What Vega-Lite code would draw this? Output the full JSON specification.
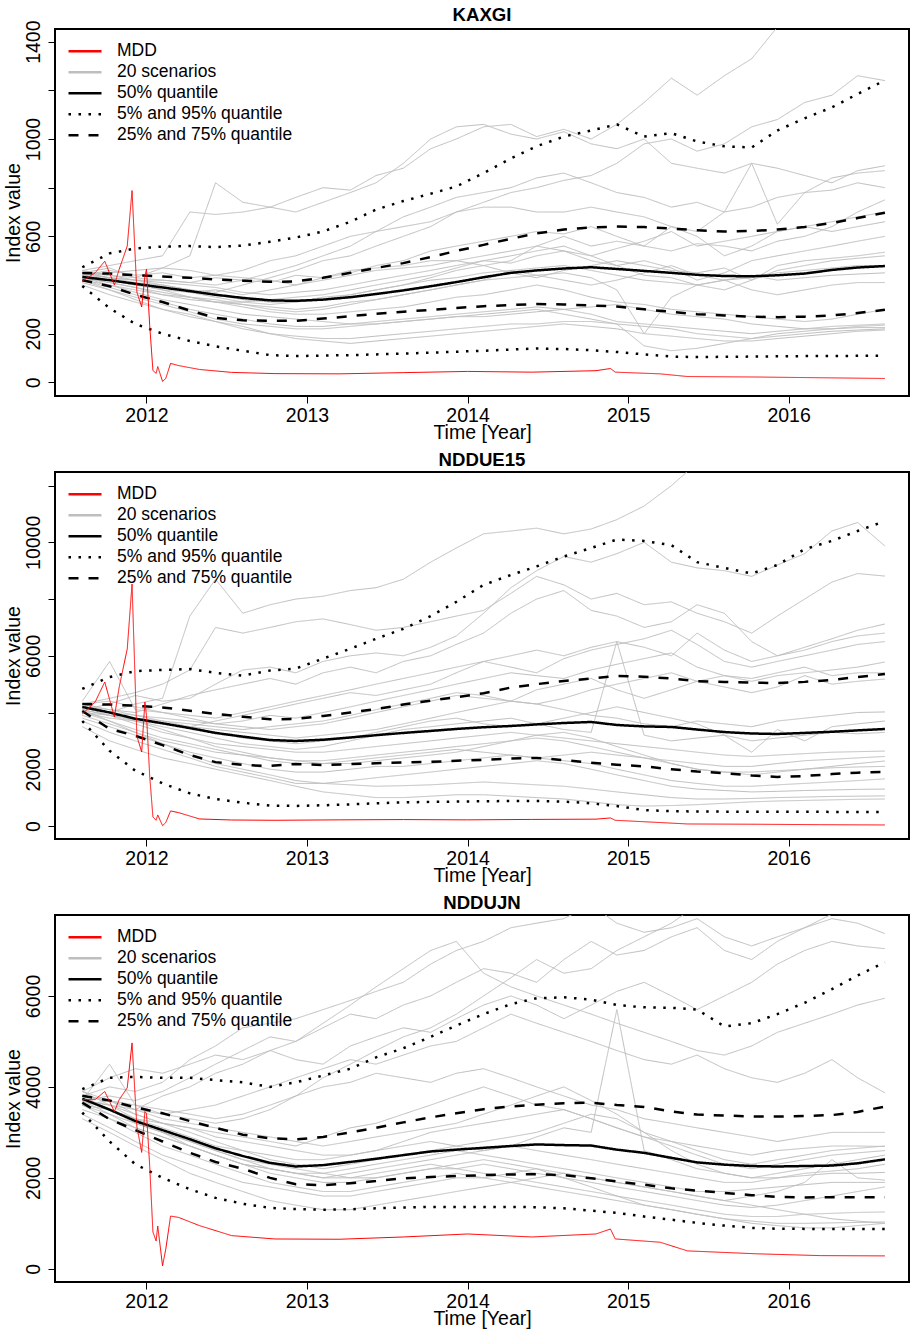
{
"$schema": "https://vega.github.io/schema/vega-lite/v6.json",
"padding": {"left": 2, "top": 5, "right": 1, "bottom": 2},
"spacing": 7,
"config": {
  "view": {"stroke": "black", "strokeWidth": 2},
  "font": "Liberation Sans",
  "title": {"font": "Liberation Sans", "fontSize": 18.6, "fontWeight": "bold", "color": "black", "offset": -5, "anchor": "middle"},
  "axis": {"labelFont": "Liberation Sans", "titleFont": "Liberation Sans", "labelFontSize": 19.5, "titleFontSize": 19.5, "titleFontWeight": "normal", "labelColor": "black", "titleColor": "black", "tickColor": "black", "tickSize": 7, "tickWidth": 1, "domain": false, "grid": false},
  "axisX": {"labelPadding": 3, "titlePadding": -1, "format": "d"},
  "axisY": {"labelAngle": -90, "labelAlign": "center", "labelBaseline": "bottom", "labelPadding": 5, "titlePadding": 0, "format": "d"},
  "legend": {"orient": "top-left", "offset": 12, "padding": 0, "symbolType": "stroke", "symbolSize": 1089, "symbolStrokeWidth": 2.5, "labelFont": "Liberation Sans", "labelFontSize": 17.5, "labelColor": "black", "labelOffset": 14, "labelLimit": 400, "rowPadding": 0, "clipHeight": 20.5}
},
"datasets": {"d": [
{"p":"KAXGI","c":"20 scenarios","s":"A","t":[2011.6,2011.77,2011.93,2012.1,2012.27,2012.43,2012.6,2012.77,2012.93,2013.1,2013.27,2013.43,2013.6,2013.77,2013.93,2014.1,2014.27,2014.43,2014.6,2014.77,2014.93,2015.1,2015.27,2015.43,2015.6,2015.77,2015.93,2016.1,2016.27,2016.43,2016.6],"v":[450,470,430,470,520,820,740,720,760,800,790,850,880,960,1000,1050,1060,1010,1040,1000,1060,1150,1250,1180,1260,1330,1460,1480,1500,1520,1540]},
{"p":"KAXGI","c":"20 scenarios","s":"B","t":[2011.6,2011.77,2011.93,2012.1,2012.27,2012.43,2012.6,2012.77,2012.93,2013.1,2013.27,2013.43,2013.6,2013.77,2013.93,2014.1,2014.27,2014.43,2014.6,2014.77,2014.93,2015.1,2015.27,2015.43,2015.6,2015.77,2015.93,2016.1,2016.27,2016.43,2016.6],"v":[440,420,410,400,380,370,400,430,460,500,520,560,600,640,700,740,780,800,830,850,900,980,1000,950,980,1050,1080,1150,1180,1260,1240]},
{"p":"KAXGI","c":"20 scenarios","s":"C","t":[2011.6,2011.77,2011.93,2012.1,2012.27,2012.43,2012.6,2012.77,2012.93,2013.1,2013.27,2013.43,2013.6,2013.77,2013.93,2014.1,2014.27,2014.43,2014.6,2014.77,2014.93,2015.1,2015.27,2015.43,2015.6,2015.77,2015.93,2016.1,2016.27,2016.43,2016.6],"v":[460,480,500,520,700,690,700,720,700,740,780,820,900,1000,1050,1060,1020,1000,1030,980,960,1000,900,880,860,900,880,850,820,870,890]},
{"p":"KAXGI","c":"20 scenarios","s":"D","t":[2011.6,2011.77,2011.93,2012.1,2012.27,2012.43,2012.6,2012.77,2012.93,2013.1,2013.27,2013.43,2013.6,2013.77,2013.93,2014.1,2014.27,2014.43,2014.6,2014.77,2014.93,2015.1,2015.27,2015.43,2015.6,2015.77,2015.93,2016.1,2016.27,2016.43,2016.6],"v":[440,460,440,450,430,440,460,500,520,560,600,620,640,660,700,720,720,700,700,720,700,680,640,620,700,900,650,780,840,860,870]},
{"p":"KAXGI","c":"20 scenarios","s":"E","t":[2011.6,2011.77,2011.93,2012.1,2012.27,2012.43,2012.6,2012.77,2012.93,2013.1,2013.27,2013.43,2013.6,2013.77,2013.93,2014.1,2014.27,2014.43,2014.6,2014.77,2014.93,2015.1,2015.27,2015.43,2015.6,2015.77,2015.93,2016.1,2016.27,2016.43,2016.6],"v":[450,430,420,420,410,400,420,450,480,520,560,620,680,720,760,780,800,840,860,820,780,760,720,740,700,720,760,780,790,820,800]},
{"p":"KAXGI","c":"20 scenarios","s":"F","t":[2011.6,2011.77,2011.93,2012.1,2012.27,2012.43,2012.6,2012.77,2012.93,2013.1,2013.27,2013.43,2013.6,2013.77,2013.93,2014.1,2014.27,2014.43,2014.6,2014.77,2014.93,2015.1,2015.27,2015.43,2015.6,2015.77,2015.93,2016.1,2016.27,2016.43,2016.6],"v":[430,420,400,390,370,380,360,380,400,430,450,480,500,540,560,580,600,620,610,640,600,560,540,570,560,540,580,600,640,700,750]},
{"p":"KAXGI","c":"20 scenarios","s":"G","t":[2011.6,2011.77,2011.93,2012.1,2012.27,2012.43,2012.6,2012.77,2012.93,2013.1,2013.27,2013.43,2013.6,2013.77,2013.93,2014.1,2014.27,2014.43,2014.6,2014.77,2014.93,2015.1,2015.27,2015.43,2015.6,2015.77,2015.93,2016.1,2016.27,2016.43,2016.6],"v":[460,440,430,420,410,430,420,410,440,430,460,470,480,500,500,480,500,560,600,560,580,560,640,600,520,560,620,640,660,680,700]},
{"p":"KAXGI","c":"20 scenarios","s":"H","t":[2011.6,2011.77,2011.93,2012.1,2012.27,2012.43,2012.6,2012.77,2012.93,2013.1,2013.27,2013.43,2013.6,2013.77,2013.93,2014.1,2014.27,2014.43,2014.6,2014.77,2014.93,2015.1,2015.27,2015.43,2015.6,2015.77,2015.93,2016.1,2016.27,2016.43,2016.6],"v":[440,450,460,470,460,440,430,420,400,420,440,460,470,480,500,520,540,560,540,520,550,580,620,560,580,600,620,640,620,640,660]},
{"p":"KAXGI","c":"20 scenarios","s":"I","t":[2011.6,2011.77,2011.93,2012.1,2012.27,2012.43,2012.6,2012.77,2012.93,2013.1,2013.27,2013.43,2013.6,2013.77,2013.93,2014.1,2014.27,2014.43,2014.6,2014.77,2014.93,2015.1,2015.27,2015.43,2015.6,2015.77,2015.93,2016.1,2016.27,2016.43,2016.6],"v":[430,410,390,360,340,330,330,340,350,360,380,400,420,440,470,500,490,520,540,500,480,500,470,420,450,500,520,540,560,580,600]},
{"p":"KAXGI","c":"20 scenarios","s":"J","t":[2011.6,2011.77,2011.93,2012.1,2012.27,2012.43,2012.6,2012.77,2012.93,2013.1,2013.27,2013.43,2013.6,2013.77,2013.93,2014.1,2014.27,2014.43,2014.6,2014.77,2014.93,2015.1,2015.27,2015.43,2015.6,2015.77,2015.93,2016.1,2016.27,2016.43,2016.6],"v":[450,430,410,380,370,350,330,320,330,350,360,380,400,430,460,480,450,430,460,480,500,480,460,450,470,420,480,500,510,520,535]},
{"p":"KAXGI","c":"20 scenarios","s":"K","t":[2011.6,2011.77,2011.93,2012.1,2012.27,2012.43,2012.6,2012.77,2012.93,2013.1,2013.27,2013.43,2013.6,2013.77,2013.93,2014.1,2014.27,2014.43,2014.6,2014.77,2014.93,2015.1,2015.27,2015.43,2015.6,2015.77,2015.93,2016.1,2016.27,2016.43,2016.6],"v":[440,430,420,410,400,390,370,360,370,380,400,420,440,460,480,500,520,540,560,520,480,440,430,400,380,420,460,480,500,510,520]},
{"p":"KAXGI","c":"20 scenarios","s":"L","t":[2011.6,2011.77,2011.93,2012.1,2012.27,2012.43,2012.6,2012.77,2012.93,2013.1,2013.27,2013.43,2013.6,2013.77,2013.93,2014.1,2014.27,2014.43,2014.6,2014.77,2014.93,2015.1,2015.27,2015.43,2015.6,2015.77,2015.93,2016.1,2016.27,2016.43,2016.6],"v":[420,400,380,360,350,340,320,310,300,310,330,340,360,380,400,420,460,440,420,400,420,450,480,440,420,430,450,460,470,480,480]},
{"p":"KAXGI","c":"20 scenarios","s":"M","t":[2011.6,2011.77,2011.93,2012.1,2012.27,2012.43,2012.6,2012.77,2012.93,2013.1,2013.27,2013.43,2013.6,2013.77,2013.93,2014.1,2014.27,2014.43,2014.6,2014.77,2014.93,2015.1,2015.27,2015.43,2015.6,2015.77,2015.93,2016.1,2016.27,2016.43,2016.6],"v":[450,440,420,400,380,360,340,330,330,340,360,380,400,420,430,450,460,470,480,460,440,420,410,400,420,440,420,430,440,445,450]},
{"p":"KAXGI","c":"20 scenarios","s":"N","t":[2011.6,2011.77,2011.93,2012.1,2012.27,2012.43,2012.6,2012.77,2012.93,2013.1,2013.27,2013.43,2013.6,2013.77,2013.93,2014.1,2014.27,2014.43,2014.6,2014.77,2014.93,2015.1,2015.27,2015.43,2015.6,2015.77,2015.93,2016.1,2016.27,2016.43,2016.6],"v":[430,410,390,370,350,330,320,300,290,300,320,340,360,380,400,420,430,440,450,430,380,200,350,400,420,380,360,380,400,410,410]},
{"p":"KAXGI","c":"20 scenarios","s":"O","t":[2011.6,2011.77,2011.93,2012.1,2012.27,2012.43,2012.6,2012.77,2012.93,2013.1,2013.27,2013.43,2013.6,2013.77,2013.93,2014.1,2014.27,2014.43,2014.6,2014.77,2014.93,2015.1,2015.27,2015.43,2015.6,2015.77,2015.93,2016.1,2016.27,2016.43,2016.6],"v":[440,420,400,380,350,330,310,290,280,280,290,300,310,330,350,360,380,400,380,350,330,320,300,290,280,270,260,250,260,280,300]},
{"p":"KAXGI","c":"20 scenarios","s":"P","t":[2011.6,2011.77,2011.93,2012.1,2012.27,2012.43,2012.6,2012.77,2012.93,2013.1,2013.27,2013.43,2013.6,2013.77,2013.93,2014.1,2014.27,2014.43,2014.6,2014.77,2014.93,2015.1,2015.27,2015.43,2015.6,2015.77,2015.93,2016.1,2016.27,2016.43,2016.6],"v":[420,390,360,330,300,280,260,240,230,230,240,250,260,270,280,290,300,310,300,280,250,240,230,220,210,200,210,220,230,235,240]},
{"p":"KAXGI","c":"20 scenarios","s":"Q","t":[2011.6,2011.77,2011.93,2012.1,2012.27,2012.43,2012.6,2012.77,2012.93,2013.1,2013.27,2013.43,2013.6,2013.77,2013.93,2014.1,2014.27,2014.43,2014.6,2014.77,2014.93,2015.1,2015.27,2015.43,2015.6,2015.77,2015.93,2016.1,2016.27,2016.43,2016.6],"v":[410,380,350,320,290,260,240,230,220,220,230,240,250,260,270,280,290,300,280,260,240,150,130,140,160,180,200,210,220,230,235]},
{"p":"KAXGI","c":"20 scenarios","s":"R","t":[2011.6,2011.77,2011.93,2012.1,2012.27,2012.43,2012.6,2012.77,2012.93,2013.1,2013.27,2013.43,2013.6,2013.77,2013.93,2014.1,2014.27,2014.43,2014.6,2014.77,2014.93,2015.1,2015.27,2015.43,2015.6,2015.77,2015.93,2016.1,2016.27,2016.43,2016.6],"v":[430,400,370,340,320,300,280,270,260,250,240,240,250,260,270,270,280,290,300,310,320,300,280,270,260,240,230,220,220,225,225]},
{"p":"KAXGI","c":"20 scenarios","s":"S","t":[2011.6,2011.77,2011.93,2012.1,2012.27,2012.43,2012.6,2012.77,2012.93,2013.1,2013.27,2013.43,2013.6,2013.77,2013.93,2014.1,2014.27,2014.43,2014.6,2014.77,2014.93,2015.1,2015.27,2015.43,2015.6,2015.77,2015.93,2016.1,2016.27,2016.43,2016.6],"v":[420,380,340,300,270,250,230,200,190,180,180,190,200,210,220,230,240,240,250,250,240,230,220,200,190,180,190,200,210,215,220]},
{"p":"KAXGI","c":"20 scenarios","s":"T","t":[2011.6,2011.77,2011.93,2012.1,2012.27,2012.43,2012.6,2012.77,2012.93,2013.1,2013.27,2013.43,2013.6,2013.77,2013.93,2014.1,2014.27,2014.43,2014.6,2014.77,2014.93,2015.1,2015.27,2015.43,2015.6,2015.77,2015.93,2016.1,2016.27,2016.43,2016.6],"v":[400,360,330,300,280,250,220,200,180,170,160,170,180,190,200,210,220,230,240,230,220,200,190,180,170,170,180,190,200,210,215]},
{"p":"KAXGI","c":"50% quantile","s":"q50","t":[2011.6,2011.77,2011.93,2012.1,2012.27,2012.43,2012.6,2012.77,2012.93,2013.1,2013.27,2013.43,2013.6,2013.77,2013.93,2014.1,2014.27,2014.43,2014.6,2014.77,2014.93,2015.1,2015.27,2015.43,2015.6,2015.77,2015.93,2016.1,2016.27,2016.43,2016.6],"v":[433,420,405,390,375,360,347,337,335,340,350,363,378,395,412,432,450,460,468,473,466,458,450,442,437,436,440,447,462,472,478]},
{"p":"KAXGI","c":"25% and 75% quantile","s":"q75","t":[2011.6,2011.77,2011.93,2012.1,2012.27,2012.43,2012.6,2012.77,2012.93,2013.1,2013.27,2013.43,2013.6,2013.77,2013.93,2014.1,2014.27,2014.43,2014.6,2014.77,2014.93,2015.1,2015.27,2015.43,2015.6,2015.77,2015.93,2016.1,2016.27,2016.43,2016.6],"v":[449,447,440,435,430,423,418,413,415,430,450,470,490,515,540,565,590,612,628,637,640,638,632,625,620,622,628,638,655,675,697]},
{"p":"KAXGI","c":"25% and 75% quantile","s":"q25","t":[2011.6,2011.77,2011.93,2012.1,2012.27,2012.43,2012.6,2012.77,2012.93,2013.1,2013.27,2013.43,2013.6,2013.77,2013.93,2014.1,2014.27,2014.43,2014.6,2014.77,2014.93,2015.1,2015.27,2015.43,2015.6,2015.77,2015.93,2016.1,2016.27,2016.43,2016.6],"v":[420,395,360,330,295,265,255,253,253,262,272,282,290,298,306,313,318,322,320,316,312,300,290,280,275,270,268,270,275,285,298]},
{"p":"KAXGI","c":"5% and 95% quantile","s":"q95","t":[2011.6,2011.77,2011.93,2012.1,2012.27,2012.43,2012.6,2012.77,2012.93,2013.1,2013.27,2013.43,2013.6,2013.77,2013.93,2014.1,2014.27,2014.43,2014.6,2014.77,2014.93,2015.1,2015.27,2015.43,2015.6,2015.77,2015.93,2016.1,2016.27,2016.43,2016.6],"v":[473,530,550,558,560,556,562,578,595,620,660,710,745,775,805,860,920,970,1010,1035,1060,1010,1024,990,970,965,1035,1085,1130,1185,1241]},
{"p":"KAXGI","c":"5% and 95% quantile","s":"q05","t":[2011.6,2011.77,2011.93,2012.1,2012.27,2012.43,2012.6,2012.77,2012.93,2013.1,2013.27,2013.43,2013.6,2013.77,2013.93,2014.1,2014.27,2014.43,2014.6,2014.77,2014.93,2015.1,2015.27,2015.43,2015.6,2015.77,2015.93,2016.1,2016.27,2016.43,2016.6],"v":[396,305,240,200,170,148,130,112,108,110,112,115,118,122,126,130,135,139,137,132,125,115,106,104,105,106,107,108,108,109,110]},
{"p":"KAXGI","c":"MDD","s":"mdd","t":[2011.6,2011.68,2011.74,2011.8,2011.83,2011.88,2011.91,2011.94,2011.97,2011.99,2012.0,2012.02,2012.04,2012.06,2012.07,2012.1,2012.12,2012.15,2012.2,2012.33,2012.53,2012.8,2013.2,2013.6,2014.0,2014.4,2014.8,2014.89,2014.92,2015.2,2015.37,2015.8,2016.2,2016.6],"v":[416,450,498,400,465,560,788,371,310,437,465,233,49,37,65,4,16,78,69,53,41,36,35,40,45,42,48,57,42,35,24,22,19,16]},

{"p":"NDDUE15","c":"20 scenarios","s":"A","t":[2011.6,2011.77,2011.93,2012.1,2012.27,2012.43,2012.6,2012.77,2012.93,2013.1,2013.27,2013.43,2013.6,2013.77,2013.93,2014.1,2014.27,2014.43,2014.6,2014.77,2014.93,2015.1,2015.27,2015.43,2015.6,2015.77,2015.93,2016.1,2016.27,2016.43,2016.6],"v":[4200,4000,4300,4500,7400,8700,7500,7800,8000,8100,8300,8400,8700,9300,9800,10300,10400,10500,10300,10470,10800,11280,12000,12800,13300,13500,13600,13700,13800,13900,14000]},
{"p":"NDDUE15","c":"20 scenarios","s":"B","t":[2011.6,2011.77,2011.93,2012.1,2012.27,2012.43,2012.6,2012.77,2012.93,2013.1,2013.27,2013.43,2013.6,2013.77,2013.93,2014.1,2014.27,2014.43,2014.6,2014.77,2014.93,2015.1,2015.27,2015.43,2015.6,2015.77,2015.93,2016.1,2016.27,2016.43,2016.6],"v":[4100,4300,4600,4400,4500,5000,5500,5600,5400,5800,6000,6100,6000,6300,6700,7500,8400,9000,9500,9300,9600,10000,9300,9100,9000,8800,9200,9600,10400,10700,9870]},
{"p":"NDDUE15","c":"20 scenarios","s":"C","t":[2011.6,2011.77,2011.93,2012.1,2012.27,2012.43,2012.6,2012.77,2012.93,2013.1,2013.27,2013.43,2013.6,2013.77,2013.93,2014.1,2014.27,2014.43,2014.6,2014.77,2014.93,2015.1,2015.27,2015.43,2015.6,2015.77,2015.93,2016.1,2016.27,2016.43,2016.6],"v":[4300,4500,4700,5000,5500,7000,6800,7000,7200,7300,7100,6900,7000,7200,7400,7600,8200,8800,8500,8000,8200,7800,7900,7500,7200,6800,7400,8000,8600,8900,8810]},
{"p":"NDDUE15","c":"20 scenarios","s":"D","t":[2011.6,2011.77,2011.93,2012.1,2012.27,2012.43,2012.6,2012.77,2012.93,2013.1,2013.27,2013.43,2013.6,2013.77,2013.93,2014.1,2014.27,2014.43,2014.6,2014.77,2014.93,2015.1,2015.27,2015.43,2015.6,2015.77,2015.93,2016.1,2016.27,2016.43,2016.6],"v":[4200,4100,4000,4300,4600,4800,5000,5200,5000,5400,5600,5400,5800,6000,6400,6800,7500,8000,8300,7600,7400,7000,7200,7800,7500,6500,6000,6300,6600,6900,7120]},
{"p":"NDDUE15","c":"20 scenarios","s":"E","t":[2011.6,2011.77,2011.93,2012.1,2012.27,2012.43,2012.6,2012.77,2012.93,2013.1,2013.27,2013.43,2013.6,2013.77,2013.93,2014.1,2014.27,2014.43,2014.6,2014.77,2014.93,2015.1,2015.27,2015.43,2015.6,2015.77,2015.93,2016.1,2016.27,2016.43,2016.6],"v":[4400,5800,4100,4000,3900,3800,4000,4200,4400,4600,4800,5000,5200,5400,5600,5800,6000,6200,6000,6300,6500,6300,6000,6800,6200,5800,6000,6200,6500,6700,6800]},
{"p":"NDDUE15","c":"20 scenarios","s":"F","t":[2011.6,2011.77,2011.93,2012.1,2012.27,2012.43,2012.6,2012.77,2012.93,2013.1,2013.27,2013.43,2013.6,2013.77,2013.93,2014.1,2014.27,2014.43,2014.6,2014.77,2014.93,2015.1,2015.27,2015.43,2015.6,2015.77,2015.93,2016.1,2016.27,2016.43,2016.6],"v":[4000,3800,3700,3600,3500,3700,3900,4100,4300,4500,4700,4600,4800,5000,5400,5800,5600,5400,5900,6200,6400,6600,6900,6400,5800,5600,5800,6000,6200,6400,6500]},
{"p":"NDDUE15","c":"20 scenarios","s":"G","t":[2011.6,2011.77,2011.93,2012.1,2012.27,2012.43,2012.6,2012.77,2012.93,2013.1,2013.27,2013.43,2013.6,2013.77,2013.93,2014.1,2014.27,2014.43,2014.6,2014.77,2014.93,2015.1,2015.27,2015.43,2015.6,2015.77,2015.93,2016.1,2016.27,2016.43,2016.6],"v":[4300,4400,4200,4000,3800,3600,3700,3900,3800,4000,4200,4400,4600,4800,5000,5200,5400,5300,5200,5500,5700,5900,6100,5600,5300,5100,5300,5400,5500,5600,5780]},
{"p":"NDDUE15","c":"20 scenarios","s":"H","t":[2011.6,2011.77,2011.93,2012.1,2012.27,2012.43,2012.6,2012.77,2012.93,2013.1,2013.27,2013.43,2013.6,2013.77,2013.93,2014.1,2014.27,2014.43,2014.6,2014.77,2014.93,2015.1,2015.27,2015.43,2015.6,2015.77,2015.93,2016.1,2016.27,2016.43,2016.6],"v":[4100,3900,3800,3700,3600,3500,3400,3500,3600,3700,3900,4100,4300,4500,4700,4600,4400,4800,5000,5200,4800,4500,4800,5100,5300,5200,5400,5600,5300,5400,5400]},
{"p":"NDDUE15","c":"20 scenarios","s":"I","t":[2011.6,2011.77,2011.93,2012.1,2012.27,2012.43,2012.6,2012.77,2012.93,2013.1,2013.27,2013.43,2013.6,2013.77,2013.93,2014.1,2014.27,2014.43,2014.6,2014.77,2014.93,2015.1,2015.27,2015.43,2015.6,2015.77,2015.93,2016.1,2016.27,2016.43,2016.6],"v":[4200,4000,3900,3800,3700,3600,3500,3400,3500,3600,3800,4000,4200,4400,4600,4500,4400,4300,4500,4800,5000,5200,5400,5100,4900,4700,4900,5300,5000,5100,5180]},
{"p":"NDDUE15","c":"20 scenarios","s":"J","t":[2011.6,2011.77,2011.93,2012.1,2012.27,2012.43,2012.6,2012.77,2012.93,2013.1,2013.27,2013.43,2013.6,2013.77,2013.93,2014.1,2014.27,2014.43,2014.6,2014.77,2014.93,2015.1,2015.27,2015.43,2015.6,2015.77,2015.93,2016.1,2016.27,2016.43,2016.6],"v":[4000,3900,3800,3600,3500,3400,3300,3200,3100,3200,3300,3400,3600,3800,4000,4200,4400,4300,4100,3900,3800,3600,3500,3700,3600,3500,3700,3800,3900,4000,4020]},
{"p":"NDDUE15","c":"20 scenarios","s":"K","t":[2011.6,2011.77,2011.93,2012.1,2012.27,2012.43,2012.6,2012.77,2012.93,2013.1,2013.27,2013.43,2013.6,2013.77,2013.93,2014.1,2014.27,2014.43,2014.6,2014.77,2014.93,2015.1,2015.27,2015.43,2015.6,2015.77,2015.93,2016.1,2016.27,2016.43,2016.6],"v":[4300,4100,3900,3700,3500,3300,3100,3000,2900,3000,3100,3300,3500,3700,3800,3600,3500,3600,3800,4000,4200,4000,3800,3600,3200,2600,3400,3000,3500,3600,3700]},
{"p":"NDDUE15","c":"20 scenarios","s":"L","t":[2011.6,2011.77,2011.93,2012.1,2012.27,2012.43,2012.6,2012.77,2012.93,2013.1,2013.27,2013.43,2013.6,2013.77,2013.93,2014.1,2014.27,2014.43,2014.6,2014.77,2014.93,2015.1,2015.27,2015.43,2015.6,2015.77,2015.93,2016.1,2016.27,2016.43,2016.6],"v":[4100,3900,3700,3500,3300,3100,2900,2800,2700,2800,3000,3200,3400,3500,3600,3700,3800,3600,3400,3300,6500,3200,3000,3100,3200,3000,3100,3200,3300,3250,3300]},
{"p":"NDDUE15","c":"20 scenarios","s":"M","t":[2011.6,2011.77,2011.93,2012.1,2012.27,2012.43,2012.6,2012.77,2012.93,2013.1,2013.27,2013.43,2013.6,2013.77,2013.93,2014.1,2014.27,2014.43,2014.6,2014.77,2014.93,2015.1,2015.27,2015.43,2015.6,2015.77,2015.93,2016.1,2016.27,2016.43,2016.6],"v":[4200,3900,3600,3300,3100,2900,2800,2700,2600,2600,2700,2800,2900,3000,3100,3200,3300,3200,3100,3000,2900,2800,2700,2600,2500,2450,2500,2550,2600,2620,2640]},
{"p":"NDDUE15","c":"20 scenarios","s":"N","t":[2011.6,2011.77,2011.93,2012.1,2012.27,2012.43,2012.6,2012.77,2012.93,2013.1,2013.27,2013.43,2013.6,2013.77,2013.93,2014.1,2014.27,2014.43,2014.6,2014.77,2014.93,2015.1,2015.27,2015.43,2015.6,2015.77,2015.93,2016.1,2016.27,2016.43,2016.6],"v":[3900,3600,3300,3000,2800,2600,2500,2400,2300,2300,2400,2500,2600,2700,2800,2900,3000,3100,3000,2800,2600,2400,2300,2200,2100,2100,2200,2300,2350,2400,2450]},
{"p":"NDDUE15","c":"20 scenarios","s":"O","t":[2011.6,2011.77,2011.93,2012.1,2012.27,2012.43,2012.6,2012.77,2012.93,2013.1,2013.27,2013.43,2013.6,2013.77,2013.93,2014.1,2014.27,2014.43,2014.6,2014.77,2014.93,2015.1,2015.27,2015.43,2015.6,2015.77,2015.93,2016.1,2016.27,2016.43,2016.6],"v":[4000,3700,3400,3100,2900,2700,2500,2300,2200,2200,2300,2400,2500,2600,2700,2600,2500,2400,2500,2600,2500,2400,2200,2000,1900,1800,1900,2000,2100,2200,2290]},
{"p":"NDDUE15","c":"20 scenarios","s":"P","t":[2011.6,2011.77,2011.93,2012.1,2012.27,2012.43,2012.6,2012.77,2012.93,2013.1,2013.27,2013.43,2013.6,2013.77,2013.93,2014.1,2014.27,2014.43,2014.6,2014.77,2014.93,2015.1,2015.27,2015.43,2015.6,2015.77,2015.93,2016.1,2016.27,2016.43,2016.6],"v":[4300,4000,3700,3400,3100,2800,2600,2400,2300,2200,2200,2300,2400,2500,2600,2800,3000,3200,3300,3100,2800,2500,2200,2000,1900,1900,1950,2000,2050,2080,2100]},
{"p":"NDDUE15","c":"20 scenarios","s":"Q","t":[2011.6,2011.77,2011.93,2012.1,2012.27,2012.43,2012.6,2012.77,2012.93,2013.1,2013.27,2013.43,2013.6,2013.77,2013.93,2014.1,2014.27,2014.43,2014.6,2014.77,2014.93,2015.1,2015.27,2015.43,2015.6,2015.77,2015.93,2016.1,2016.27,2016.43,2016.6],"v":[3800,3500,3200,2900,2600,2400,2200,2000,1900,1900,2000,2100,2100,2200,2300,2400,2500,2400,2300,2200,2000,1800,1600,1500,1400,1400,1450,1500,1550,1600,1660]},
{"p":"NDDUE15","c":"20 scenarios","s":"R","t":[2011.6,2011.77,2011.93,2012.1,2012.27,2012.43,2012.6,2012.77,2012.93,2013.1,2013.27,2013.43,2013.6,2013.77,2013.93,2014.1,2014.27,2014.43,2014.6,2014.77,2014.93,2015.1,2015.27,2015.43,2015.6,2015.77,2015.93,2016.1,2016.27,2016.43,2016.6],"v":[3700,3300,3000,2700,2400,2100,1900,1700,1500,1500,1600,1700,1800,1900,2000,2100,2200,2300,2200,2000,1800,1600,1400,1300,1250,1200,1220,1250,1270,1290,1300]},
{"p":"NDDUE15","c":"20 scenarios","s":"S","t":[2011.6,2011.77,2011.93,2012.1,2012.27,2012.43,2012.6,2012.77,2012.93,2013.1,2013.27,2013.43,2013.6,2013.77,2013.93,2014.1,2014.27,2014.43,2014.6,2014.77,2014.93,2015.1,2015.27,2015.43,2015.6,2015.77,2015.93,2016.1,2016.27,2016.43,2016.6],"v":[4100,3700,3300,2900,2500,2200,2000,1800,1600,1500,1450,1400,1420,1450,1500,1550,1500,1450,1400,1300,1200,1100,1000,950,950,970,1000,1020,1040,1050,1060]},
{"p":"NDDUE15","c":"20 scenarios","s":"T","t":[2011.6,2011.77,2011.93,2012.1,2012.27,2012.43,2012.6,2012.77,2012.93,2013.1,2013.27,2013.43,2013.6,2013.77,2013.93,2014.1,2014.27,2014.43,2014.6,2014.77,2014.93,2015.1,2015.27,2015.43,2015.6,2015.77,2015.93,2016.1,2016.27,2016.43,2016.6],"v":[3500,3000,2700,2400,2200,2000,1800,1600,1400,1200,1100,1000,1000,1050,1100,1100,1050,1000,950,850,750,700,720,750,800,850,880,900,920,940,950]},
{"p":"NDDUE15","c":"50% quantile","s":"q50","t":[2011.6,2011.77,2011.93,2012.1,2012.27,2012.43,2012.6,2012.77,2012.93,2013.1,2013.27,2013.43,2013.6,2013.77,2013.93,2014.1,2014.27,2014.43,2014.6,2014.77,2014.93,2015.1,2015.27,2015.43,2015.6,2015.77,2015.93,2016.1,2016.27,2016.43,2016.6],"v":[4195,4000,3780,3620,3450,3280,3150,3030,2996,3040,3120,3200,3280,3350,3420,3480,3525,3580,3630,3666,3560,3510,3490,3400,3310,3260,3243,3280,3320,3370,3419]},
{"p":"NDDUE15","c":"25% and 75% quantile","s":"q75","t":[2011.6,2011.77,2011.93,2012.1,2012.27,2012.43,2012.6,2012.77,2012.93,2013.1,2013.27,2013.43,2013.6,2013.77,2013.93,2014.1,2014.27,2014.43,2014.6,2014.77,2014.93,2015.1,2015.27,2015.43,2015.6,2015.77,2015.93,2016.1,2016.27,2016.43,2016.6],"v":[4300,4280,4240,4180,4060,3950,3850,3760,3772,3880,4000,4120,4280,4420,4540,4680,4880,5000,5110,5200,5287,5260,5200,5100,5080,5050,5040,5080,5150,5250,5358]},
{"p":"NDDUE15","c":"25% and 75% quantile","s":"q25","t":[2011.6,2011.77,2011.93,2012.1,2012.27,2012.43,2012.6,2012.77,2012.93,2013.1,2013.27,2013.43,2013.6,2013.77,2013.93,2014.1,2014.27,2014.43,2014.6,2014.77,2014.93,2015.1,2015.27,2015.43,2015.6,2015.77,2015.93,2016.1,2016.27,2016.43,2016.6],"v":[4054,3420,3180,2850,2500,2250,2150,2115,2185,2150,2180,2210,2240,2260,2300,2330,2380,2400,2320,2230,2160,2100,2000,1920,1860,1780,1730,1760,1830,1880,1903]},
{"p":"NDDUE15","c":"5% and 95% quantile","s":"q95","t":[2011.6,2011.77,2011.93,2012.1,2012.27,2012.43,2012.6,2012.77,2012.93,2013.1,2013.27,2013.43,2013.6,2013.77,2013.93,2014.1,2014.27,2014.43,2014.6,2014.77,2014.93,2015.1,2015.27,2015.43,2015.6,2015.77,2015.93,2016.1,2016.27,2016.43,2016.6],"v":[4830,5250,5460,5500,5530,5400,5300,5480,5550,5900,6250,6600,6950,7400,7900,8500,8850,9150,9500,9800,10100,10050,9900,9300,9100,8900,9200,9760,10050,10400,10750]},
{"p":"NDDUE15","c":"5% and 95% quantile","s":"q05","t":[2011.6,2011.77,2011.93,2012.1,2012.27,2012.43,2012.6,2012.77,2012.93,2013.1,2013.27,2013.43,2013.6,2013.77,2013.93,2014.1,2014.27,2014.43,2014.6,2014.77,2014.93,2015.1,2015.27,2015.43,2015.6,2015.77,2015.93,2016.1,2016.27,2016.43,2016.6],"v":[3700,2650,1950,1500,1150,950,820,720,705,730,760,800,830,850,860,870,880,880,860,800,700,560,520,510,505,500,500,498,496,495,494]},
{"p":"NDDUE15","c":"MDD","s":"mdd","t":[2011.6,2011.68,2011.74,2011.8,2011.83,2011.88,2011.91,2011.94,2011.97,2011.99,2012.0,2012.02,2012.04,2012.06,2012.07,2012.1,2012.12,2012.15,2012.2,2012.33,2012.53,2012.8,2013.2,2013.6,2014.0,2014.4,2014.8,2014.89,2014.92,2015.2,2015.37,2015.8,2016.2,2016.6],"v":[3950,4370,5076,3842,4900,6240,8530,3172,2608,4370,3900,1762,317,200,388,10,118,529,470,247,210,200,215,225,215,230,240,282,200,120,70,60,45,35]},

{"p":"NDDUJN","c":"20 scenarios","s":"A","t":[2011.6,2011.77,2011.93,2012.1,2012.27,2012.43,2012.6,2012.77,2012.93,2013.1,2013.27,2013.43,2013.6,2013.77,2013.93,2014.1,2014.27,2014.43,2014.6,2014.77,2014.93,2015.1,2015.27,2015.43,2015.6,2015.77,2015.93,2016.1,2016.27,2016.43,2016.6],"v":[3800,4000,3900,4100,4600,4900,5300,5400,5500,5700,5900,6100,6300,6700,7000,7200,7500,7600,7700,8000,7600,7400,7500,7700,7300,7100,7300,7500,7800,7900,8000]},
{"p":"NDDUJN","c":"20 scenarios","s":"B","t":[2011.6,2011.77,2011.93,2012.1,2012.27,2012.43,2012.6,2012.77,2012.93,2013.1,2013.27,2013.43,2013.6,2013.77,2013.93,2014.1,2014.27,2014.43,2014.6,2014.77,2014.93,2015.1,2015.27,2015.43,2015.6,2015.77,2015.93,2016.1,2016.27,2016.43,2016.6],"v":[3700,3800,3700,3900,4200,4500,4800,5100,5000,5300,5600,5500,5800,6000,6300,6600,6500,6300,6800,7200,6900,7000,7300,7500,7000,6800,7200,7500,7700,7600,7370]},
{"p":"NDDUJN","c":"20 scenarios","s":"C","t":[2011.6,2011.77,2011.93,2012.1,2012.27,2012.43,2012.6,2012.77,2012.93,2013.1,2013.27,2013.43,2013.6,2013.77,2013.93,2014.1,2014.27,2014.43,2014.6,2014.77,2014.93,2015.1,2015.27,2015.43,2015.6,2015.77,2015.93,2016.1,2016.27,2016.43,2016.6],"v":[3600,3700,3500,3800,4000,4300,4500,4800,4600,4500,4900,5100,5300,5200,5500,5800,6000,5800,5500,5800,6100,6300,6000,5700,6000,6300,6700,7000,7200,7100,7040]},
{"p":"NDDUJN","c":"20 scenarios","s":"D","t":[2011.6,2011.77,2011.93,2012.1,2012.27,2012.43,2012.6,2012.77,2012.93,2013.1,2013.27,2013.43,2013.6,2013.77,2013.93,2014.1,2014.27,2014.43,2014.6,2014.77,2014.93,2015.1,2015.27,2015.43,2015.6,2015.77,2015.93,2016.1,2016.27,2016.43,2016.6],"v":[3900,4200,4400,4300,4500,4700,4600,4800,5000,5400,5800,6200,6600,7000,7200,6500,6200,6000,5800,5600,5400,5200,5000,4800,4700,4900,5200,5400,5600,5800,5950]},
{"p":"NDDUJN","c":"20 scenarios","s":"E","t":[2011.6,2011.77,2011.93,2012.1,2012.27,2012.43,2012.6,2012.77,2012.93,2013.1,2013.27,2013.43,2013.6,2013.77,2013.93,2014.1,2014.27,2014.43,2014.6,2014.77,2014.93,2015.1,2015.27,2015.43,2015.6,2015.77,2015.93,2016.1,2016.27,2016.43,2016.6],"v":[3700,3600,3500,3400,3500,3600,3800,4000,4200,4400,4600,4500,4700,4900,5000,5300,5600,5400,5200,5000,4800,4600,4500,4700,4400,4200,4100,4300,4600,4200,3870]},
{"p":"NDDUJN","c":"20 scenarios","s":"F","t":[2011.6,2011.77,2011.93,2012.1,2012.27,2012.43,2012.6,2012.77,2012.93,2013.1,2013.27,2013.43,2013.6,2013.77,2013.93,2014.1,2014.27,2014.43,2014.6,2014.77,2014.93,2015.1,2015.27,2015.43,2015.6,2015.77,2015.93,2016.1,2016.27,2016.43,2016.6],"v":[3800,3700,3600,3500,3400,3300,3400,3600,3800,4000,4100,4300,4200,4100,4300,4400,4200,4000,3800,3600,3500,3300,3200,3100,3000,2900,2800,2900,3000,3000,3000]},
{"p":"NDDUJN","c":"20 scenarios","s":"G","t":[2011.6,2011.77,2011.93,2012.1,2012.27,2012.43,2012.6,2012.77,2012.93,2013.1,2013.27,2013.43,2013.6,2013.77,2013.93,2014.1,2014.27,2014.43,2014.6,2014.77,2014.93,2015.1,2015.27,2015.43,2015.6,2015.77,2015.93,2016.1,2016.27,2016.43,2016.6],"v":[3600,3500,3300,3200,3100,3000,2900,2800,2700,2900,3100,3200,3400,3600,3800,4000,3800,3600,3500,3300,3100,2900,2800,2700,2600,2500,2600,2650,2700,2700,2690]},
{"p":"NDDUJN","c":"20 scenarios","s":"H","t":[2011.6,2011.77,2011.93,2012.1,2012.27,2012.43,2012.6,2012.77,2012.93,2013.1,2013.27,2013.43,2013.6,2013.77,2013.93,2014.1,2014.27,2014.43,2014.6,2014.77,2014.93,2015.1,2015.27,2015.43,2015.6,2015.77,2015.93,2016.1,2016.27,2016.43,2016.6],"v":[3800,3700,3500,3300,3200,3100,3000,2900,2800,2700,2800,2900,3000,3100,3200,3400,3600,3800,4000,3700,3400,3000,2800,2600,2400,2300,2400,2500,2600,2650,2700]},
{"p":"NDDUJN","c":"20 scenarios","s":"I","t":[2011.6,2011.77,2011.93,2012.1,2012.27,2012.43,2012.6,2012.77,2012.93,2013.1,2013.27,2013.43,2013.6,2013.77,2013.93,2014.1,2014.27,2014.43,2014.6,2014.77,2014.93,2015.1,2015.27,2015.43,2015.6,2015.77,2015.93,2016.1,2016.27,2016.43,2016.6],"v":[3700,3500,3300,3100,2900,2700,2600,2500,2400,2400,2500,2600,2800,3000,3100,3200,3300,3400,3500,3300,3100,2900,2700,2500,2300,2200,2300,2400,2500,2550,2600]},
{"p":"NDDUJN","c":"20 scenarios","s":"J","t":[2011.6,2011.77,2011.93,2012.1,2012.27,2012.43,2012.6,2012.77,2012.93,2013.1,2013.27,2013.43,2013.6,2013.77,2013.93,2014.1,2014.27,2014.43,2014.6,2014.77,2014.93,2015.1,2015.27,2015.43,2015.6,2015.77,2015.93,2016.1,2016.27,2016.43,2016.6],"v":[3900,3700,3400,3200,3000,2800,2600,2400,2300,2200,2300,2400,2500,2600,2700,2800,2900,3000,3200,3400,3300,3000,2600,2300,2100,2000,2100,2200,2300,2400,2500]},
{"p":"NDDUJN","c":"20 scenarios","s":"K","t":[2011.6,2011.77,2011.93,2012.1,2012.27,2012.43,2012.6,2012.77,2012.93,2013.1,2013.27,2013.43,2013.6,2013.77,2013.93,2014.1,2014.27,2014.43,2014.6,2014.77,2014.93,2015.1,2015.27,2015.43,2015.6,2015.77,2015.93,2016.1,2016.27,2016.43,2016.6],"v":[3700,3600,3400,3200,3100,2900,2800,2700,2600,2500,2500,2600,2700,2800,2700,2600,2700,2900,3100,3000,5700,2600,2400,2200,2100,2000,2000,2100,2150,2200,2300]},
{"p":"NDDUJN","c":"20 scenarios","s":"L","t":[2011.6,2011.77,2011.93,2012.1,2012.27,2012.43,2012.6,2012.77,2012.93,2013.1,2013.27,2013.43,2013.6,2013.77,2013.93,2014.1,2014.27,2014.43,2014.6,2014.77,2014.93,2015.1,2015.27,2015.43,2015.6,2015.77,2015.93,2016.1,2016.27,2016.43,2016.6],"v":[3800,3500,3200,3000,2800,2600,2400,2200,2100,2000,2100,2200,2300,2400,2500,2600,2700,2600,2500,2400,2300,2200,2100,2000,1900,1900,2000,2050,2100,2100,2120]},
{"p":"NDDUJN","c":"20 scenarios","s":"M","t":[2011.6,2011.77,2011.93,2012.1,2012.27,2012.43,2012.6,2012.77,2012.93,2013.1,2013.27,2013.43,2013.6,2013.77,2013.93,2014.1,2014.27,2014.43,2014.6,2014.77,2014.93,2015.1,2015.27,2015.43,2015.6,2015.77,2015.93,2016.1,2016.27,2016.43,2016.6],"v":[3600,3400,3100,2900,2700,2500,2300,2200,2100,2100,2200,2300,2400,2500,2600,2500,2400,2300,2200,2100,2000,1900,1800,1700,1700,1750,1800,1850,1900,1900,1900]},
{"p":"NDDUJN","c":"20 scenarios","s":"N","t":[2011.6,2011.77,2011.93,2012.1,2012.27,2012.43,2012.6,2012.77,2012.93,2013.1,2013.27,2013.43,2013.6,2013.77,2013.93,2014.1,2014.27,2014.43,2014.6,2014.77,2014.93,2015.1,2015.27,2015.43,2015.6,2015.77,2015.93,2016.1,2016.27,2016.43,2016.6],"v":[3700,3400,3200,3000,2800,2600,2400,2300,2200,2100,2000,2000,2100,2200,2300,2400,2300,2200,2100,2000,1900,1800,1700,1600,1500,1600,1700,1900,2400,2000,1950]},
{"p":"NDDUJN","c":"20 scenarios","s":"O","t":[2011.6,2011.77,2011.93,2012.1,2012.27,2012.43,2012.6,2012.77,2012.93,2013.1,2013.27,2013.43,2013.6,2013.77,2013.93,2014.1,2014.27,2014.43,2014.6,2014.77,2014.93,2015.1,2015.27,2015.43,2015.6,2015.77,2015.93,2016.1,2016.27,2016.43,2016.6],"v":[3500,3300,3100,2900,2700,2500,2300,2100,2000,1900,1900,2000,2100,2200,2200,2300,2200,2100,2000,1900,1800,1700,1600,1500,1400,1350,1400,1500,1600,1700,1800]},
{"p":"NDDUJN","c":"20 scenarios","s":"P","t":[2011.6,2011.77,2011.93,2012.1,2012.27,2012.43,2012.6,2012.77,2012.93,2013.1,2013.27,2013.43,2013.6,2013.77,2013.93,2014.1,2014.27,2014.43,2014.6,2014.77,2014.93,2015.1,2015.27,2015.43,2015.6,2015.77,2015.93,2016.1,2016.27,2016.43,2016.6],"v":[3900,3600,3300,3000,2700,2500,2300,2200,2100,2000,2000,2100,2200,2300,2200,2100,2000,1900,1800,1700,1600,1500,1400,1300,1200,1150,1150,1200,1220,1240,1250]},
{"p":"NDDUJN","c":"20 scenarios","s":"Q","t":[2011.6,2011.77,2011.93,2012.1,2012.27,2012.43,2012.6,2012.77,2012.93,2013.1,2013.27,2013.43,2013.6,2013.77,2013.93,2014.1,2014.27,2014.43,2014.6,2014.77,2014.93,2015.1,2015.27,2015.43,2015.6,2015.77,2015.93,2016.1,2016.27,2016.43,2016.6],"v":[3400,3100,2800,2500,2300,2100,1900,1800,1700,1600,1600,1700,1800,1900,2000,2000,2100,2200,2000,1800,1600,1400,1300,1200,1100,1050,1000,1000,1010,1020,1030]},
{"p":"NDDUJN","c":"20 scenarios","s":"R","t":[2011.6,2011.77,2011.93,2012.1,2012.27,2012.43,2012.6,2012.77,2012.93,2013.1,2013.27,2013.43,2013.6,2013.77,2013.93,2014.1,2014.27,2014.43,2014.6,2014.77,2014.93,2015.1,2015.27,2015.43,2015.6,2015.77,2015.93,2016.1,2016.27,2016.43,2016.6],"v":[3600,3300,3000,2700,2500,2300,2100,1900,1800,1700,1700,1800,1900,2000,2100,2000,1900,1800,1700,1600,1500,1400,1300,1200,1100,1000,950,900,900,950,1000]},
{"p":"NDDUJN","c":"20 scenarios","s":"S","t":[2011.6,2011.77,2011.93,2012.1,2012.27,2012.43,2012.6,2012.77,2012.93,2013.1,2013.27,2013.43,2013.6,2013.77,2013.93,2014.1,2014.27,2014.43,2014.6,2014.77,2014.93,2015.1,2015.27,2015.43,2015.6,2015.77,2015.93,2016.1,2016.27,2016.43,2016.6],"v":[3300,3000,2700,2400,2100,1900,1700,1500,1400,1300,1300,1400,1500,1600,1700,1800,1900,2000,2100,2000,1900,1800,1700,1600,1500,1400,1300,1200,1100,1050,1000]},
{"p":"NDDUJN","c":"20 scenarios","s":"T","t":[2011.6,2011.77,2011.93,2012.1,2012.27,2012.43,2012.6,2012.77,2012.93,2013.1,2013.27,2013.43,2013.6,2013.77,2013.93,2014.1,2014.27,2014.43,2014.6,2014.77,2014.93,2015.1,2015.27,2015.43,2015.6,2015.77,2015.93,2016.1,2016.27,2016.43,2016.6],"v":[3700,4500,3600,3400,3300,3200,3300,3500,3800,4200,4500,4800,5100,5300,5600,6000,6400,6800,6500,6600,7000,7300,7600,8000,8200,8000,8200,8300,8200,8300,8400]},
{"p":"NDDUJN","c":"50% quantile","s":"q50","t":[2011.6,2011.77,2011.93,2012.1,2012.27,2012.43,2012.6,2012.77,2012.93,2013.1,2013.27,2013.43,2013.6,2013.77,2013.93,2014.1,2014.27,2014.43,2014.6,2014.77,2014.93,2015.1,2015.27,2015.43,2015.6,2015.77,2015.93,2016.1,2016.27,2016.43,2016.6],"v":[3740,3500,3250,3050,2850,2650,2480,2330,2250,2280,2350,2420,2500,2580,2620,2660,2700,2735,2720,2710,2620,2550,2440,2340,2290,2260,2250,2260,2270,2320,2407]},
{"p":"NDDUJN","c":"25% and 75% quantile","s":"q75","t":[2011.6,2011.77,2011.93,2012.1,2012.27,2012.43,2012.6,2012.77,2012.93,2013.1,2013.27,2013.43,2013.6,2013.77,2013.93,2014.1,2014.27,2014.43,2014.6,2014.77,2014.93,2015.1,2015.27,2015.43,2015.6,2015.77,2015.93,2016.1,2016.27,2016.43,2016.6],"v":[3807,3700,3550,3420,3250,3100,2950,2870,2844,2900,3000,3100,3220,3330,3420,3510,3570,3610,3640,3654,3600,3560,3460,3391,3370,3350,3348,3360,3380,3450,3567]},
{"p":"NDDUJN","c":"25% and 75% quantile","s":"q25","t":[2011.6,2011.77,2011.93,2012.1,2012.27,2012.43,2012.6,2012.77,2012.93,2013.1,2013.27,2013.43,2013.6,2013.77,2013.93,2014.1,2014.27,2014.43,2014.6,2014.77,2014.93,2015.1,2015.27,2015.43,2015.6,2015.77,2015.93,2016.1,2016.27,2016.43,2016.6],"v":[3654,3290,3050,2800,2550,2350,2200,2000,1860,1840,1880,1930,1990,2020,2040,2060,2075,2079,2060,1990,1920,1850,1770,1720,1670,1620,1580,1570,1575,1575,1575]},
{"p":"NDDUJN","c":"5% and 95% quantile","s":"q95","t":[2011.6,2011.77,2011.93,2012.1,2012.27,2012.43,2012.6,2012.77,2012.93,2013.1,2013.27,2013.43,2013.6,2013.77,2013.93,2014.1,2014.27,2014.43,2014.6,2014.77,2014.93,2015.1,2015.27,2015.43,2015.6,2015.77,2015.93,2016.1,2016.27,2016.43,2016.6],"v":[3950,4200,4220,4200,4200,4150,4100,4000,4100,4250,4400,4650,4850,5100,5350,5600,5820,5950,5970,5920,5800,5750,5740,5700,5330,5400,5600,5850,6150,6450,6740]},
{"p":"NDDUJN","c":"5% and 95% quantile","s":"q05","t":[2011.6,2011.77,2011.93,2012.1,2012.27,2012.43,2012.6,2012.77,2012.93,2013.1,2013.27,2013.43,2013.6,2013.77,2013.93,2014.1,2014.27,2014.43,2014.6,2014.77,2014.93,2015.1,2015.27,2015.43,2015.6,2015.77,2015.93,2016.1,2016.27,2016.43,2016.6],"v":[3435,2800,2300,2000,1750,1560,1430,1340,1313,1300,1310,1330,1350,1360,1360,1360,1360,1355,1330,1280,1230,1150,1080,1010,950,900,880,878,876,875,875]},
{"p":"NDDUJN","c":"MDD","s":"mdd","t":[2011.6,2011.68,2011.74,2011.8,2011.83,2011.88,2011.91,2011.94,2011.97,2011.99,2012.0,2012.02,2012.04,2012.06,2012.07,2012.1,2012.12,2012.15,2012.2,2012.33,2012.53,2012.8,2013.2,2013.6,2014.0,2014.4,2014.8,2014.89,2014.92,2015.2,2015.37,2015.8,2016.2,2016.6],"v":[3720,3720,3900,3457,3720,3980,4967,3130,2560,3457,3420,2254,810,613,940,66,430,1160,1130,950,730,656,650,700,766,700,766,875,657,584,394,330,290,284]}
]},
"resolve": {"scale": {"x": "independent", "y": "independent", "color": "independent", "strokeDash": "independent"}, "legend": {"color": "independent", "strokeDash": "independent"}},
"vconcat": [
{
  "width": 854, "height": 367,
  "title": {"text": "KAXGI"},
  "data": {"name": "d"},
  "transform": [{"filter": "datum.p == 'KAXGI'"}, {"flatten": ["t", "v"]}],
  "encoding": {
    "x": {"field": "t", "type": "quantitative", "scale": {"domain": [2011.43, 2016.75], "nice": false, "zero": false}, "axis": {"values": [2012, 2013, 2014, 2015, 2016], "title": "Time [Year]"}},
    "y": {"field": "v", "type": "quantitative", "scale": {"domain": [-56, 1452], "nice": false, "zero": false}, "axis": {"values": [0, 200, 400, 600, 800, 1000, 1200, 1400], "labelExpr": "indexof([0,200,600,1000,1400], datum.value) >= 0 ? datum.label : ''", "title": "Index value"}},
    "detail": {"field": "s", "type": "nominal"},
    "color": {"field": "c", "type": "nominal", "scale": {"domain": ["MDD", "20 scenarios", "50% quantile", "5% and 95% quantile", "25% and 75% quantile"], "range": ["#FF0000", "#BEBEBE", "#000000", "#000000", "#000000"]}, "legend": {"title": null}},
    "strokeDash": {"field": "c", "type": "nominal", "scale": {"domain": ["MDD", "20 scenarios", "50% quantile", "5% and 95% quantile", "25% and 75% quantile"], "range": [[1, 0], [1, 0], [1, 0], [2.5, 7.5], [10, 10]]}, "legend": {"title": null}}
  },
  "layer": [
    {"transform": [{"filter": "datum.c == '20 scenarios'"}], "mark": {"type": "line", "clip": true, "strokeWidth": 1}},
    {"transform": [{"filter": "datum.c != '20 scenarios' && datum.c != 'MDD'"}], "mark": {"type": "line", "clip": true, "strokeWidth": 2.5}},
    {"transform": [{"filter": "datum.c == 'MDD'"}], "mark": {"type": "line", "clip": true, "strokeWidth": 1}}
  ]
},
{
  "width": 854, "height": 367,
  "title": {"text": "NDDUE15", "offset": 2},
  "data": {"name": "d"},
  "transform": [{"filter": "datum.p == 'NDDUE15'"}, {"flatten": ["t", "v"]}],
  "encoding": {
    "x": {"field": "t", "type": "quantitative", "scale": {"domain": [2011.43, 2016.75], "nice": false, "zero": false}, "axis": {"values": [2012, 2013, 2014, 2015, 2016], "title": "Time [Year]"}},
    "y": {"field": "v", "type": "quantitative", "scale": {"domain": [-460, 12480], "nice": false, "zero": false}, "axis": {"values": [0, 2000, 4000, 6000, 8000, 10000, 12000], "labelExpr": "indexof([0,2000,6000,10000], datum.value) >= 0 ? datum.label : ''", "title": "Index value"}},
    "detail": {"field": "s", "type": "nominal"},
    "color": {"field": "c", "type": "nominal", "scale": {"domain": ["MDD", "20 scenarios", "50% quantile", "5% and 95% quantile", "25% and 75% quantile"], "range": ["#FF0000", "#BEBEBE", "#000000", "#000000", "#000000"]}, "legend": {"title": null}},
    "strokeDash": {"field": "c", "type": "nominal", "scale": {"domain": ["MDD", "20 scenarios", "50% quantile", "5% and 95% quantile", "25% and 75% quantile"], "range": [[1, 0], [1, 0], [1, 0], [2.5, 7.5], [10, 10]]}, "legend": {"title": null}}
  },
  "layer": [
    {"transform": [{"filter": "datum.c == '20 scenarios'"}], "mark": {"type": "line", "clip": true, "strokeWidth": 1}},
    {"transform": [{"filter": "datum.c != '20 scenarios' && datum.c != 'MDD'"}], "mark": {"type": "line", "clip": true, "strokeWidth": 2.5}},
    {"transform": [{"filter": "datum.c == 'MDD'"}], "mark": {"type": "line", "clip": true, "strokeWidth": 1}}
  ]
},
{
  "width": 854, "height": 367,
  "title": {"text": "NDDUJN", "offset": 2},
  "data": {"name": "d"},
  "transform": [{"filter": "datum.p == 'NDDUJN'"}, {"flatten": ["t", "v"]}],
  "encoding": {
    "x": {"field": "t", "type": "quantitative", "scale": {"domain": [2011.43, 2016.75], "nice": false, "zero": false}, "axis": {"values": [2012, 2013, 2014, 2015, 2016], "title": "Time [Year]"}},
    "y": {"field": "v", "type": "quantitative", "scale": {"domain": [-290, 7780], "nice": false, "zero": false}, "axis": {"values": [0, 2000, 4000, 6000], "title": "Index value"}},
    "detail": {"field": "s", "type": "nominal"},
    "color": {"field": "c", "type": "nominal", "scale": {"domain": ["MDD", "20 scenarios", "50% quantile", "5% and 95% quantile", "25% and 75% quantile"], "range": ["#FF0000", "#BEBEBE", "#000000", "#000000", "#000000"]}, "legend": {"title": null}},
    "strokeDash": {"field": "c", "type": "nominal", "scale": {"domain": ["MDD", "20 scenarios", "50% quantile", "5% and 95% quantile", "25% and 75% quantile"], "range": [[1, 0], [1, 0], [1, 0], [2.5, 7.5], [10, 10]]}, "legend": {"title": null}}
  },
  "layer": [
    {"transform": [{"filter": "datum.c == '20 scenarios'"}], "mark": {"type": "line", "clip": true, "strokeWidth": 1}},
    {"transform": [{"filter": "datum.c != '20 scenarios' && datum.c != 'MDD'"}], "mark": {"type": "line", "clip": true, "strokeWidth": 2.5}},
    {"transform": [{"filter": "datum.c == 'MDD'"}], "mark": {"type": "line", "clip": true, "strokeWidth": 1}}
  ]
}
]
}
